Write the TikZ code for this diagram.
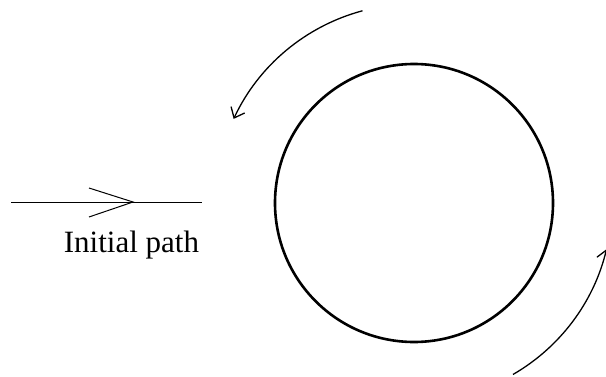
\documentclass[tikz,border=0pt]{standalone}
\usepackage{fontspec}
\setmainfont{Liberation Serif}
\usetikzlibrary{arrows.meta}
\begin{document}
\begin{tikzpicture}[x=1pt,y=1pt,
  flow/.style={line width=1.3pt, -{Straight Barb[length=9pt,width=15pt]}}]
\useasboundingbox (0,0) rectangle (606,376);
\clip (0,0) rectangle (606,376);
\node[draw, circle, line width=2.6pt, minimum size=278pt, inner sep=0pt] (disc) at (414,173) {};
\coordinate (start) at (11,174);
\coordinate (tip) at (133,174);
\coordinate (stop) at (202,174);
\node[anchor=base, font=\fontsize{31}{36}\selectfont] (label) at (131.5,124) {Initial path};
\draw[line width=1pt] (start) -- (stop);
\draw[line width=1pt] (tip) ++(-44,14) -- (tip) -- ++(-44,-15);
\draw[flow] ([shift={(105:199)}]disc.center) arc[start angle=105, end angle=155, radius=199];
\draw[flow] ([shift={(-60:198)}]disc.center) arc[start angle=-60, end angle=-13.5, radius=198];
\end{tikzpicture}
\end{document}
